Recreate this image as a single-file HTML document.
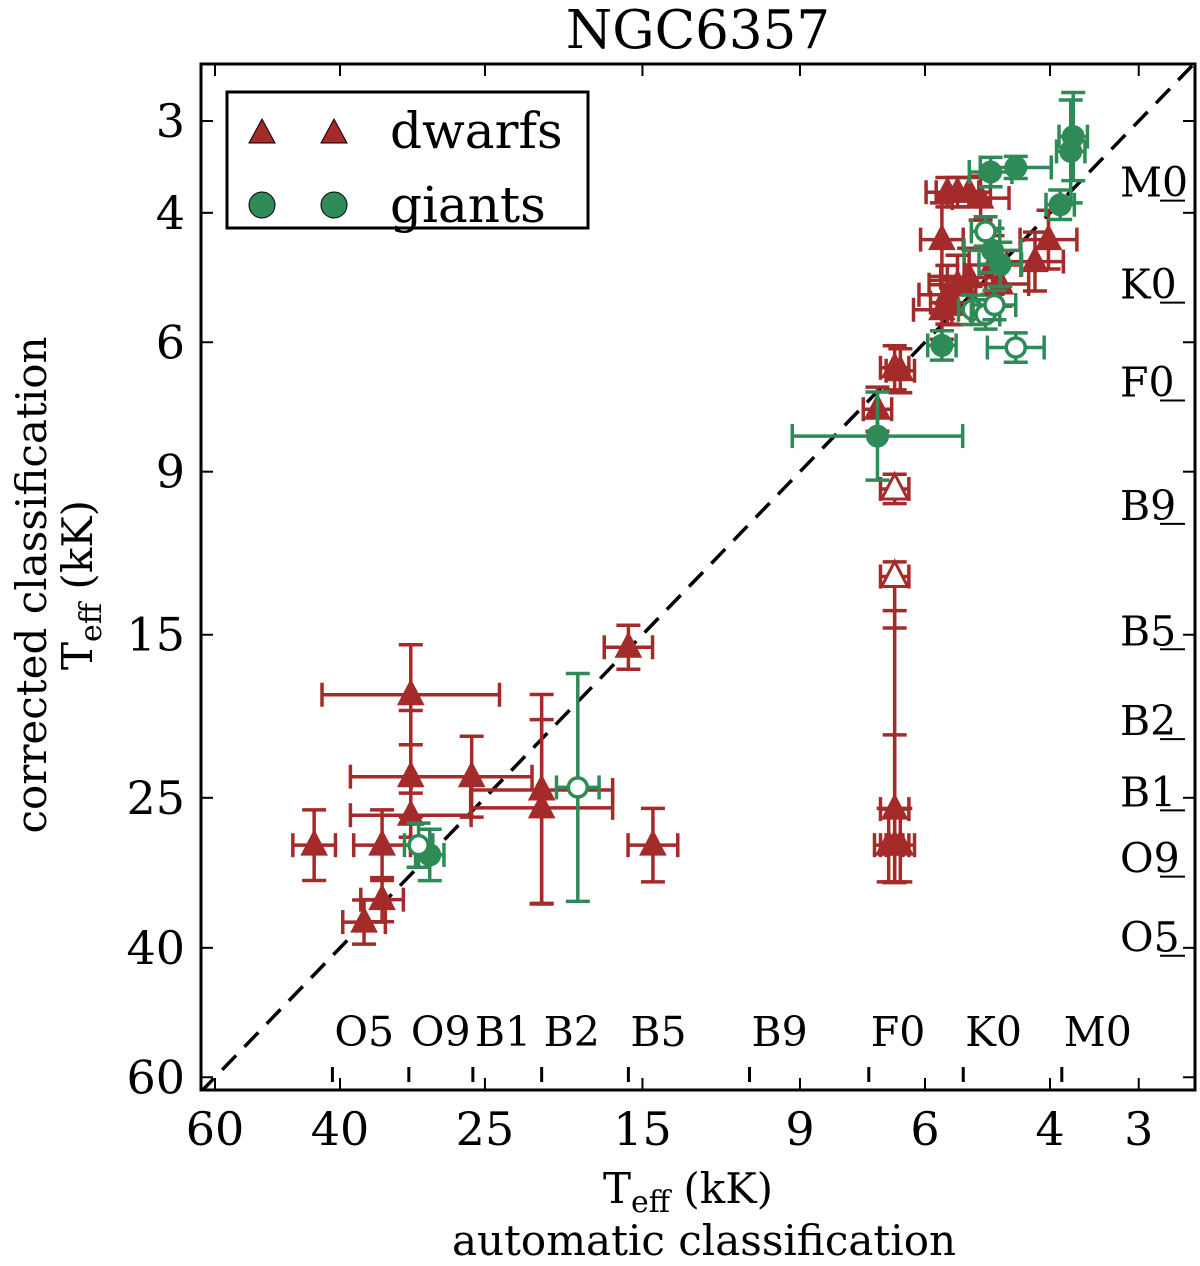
<!DOCTYPE html>
<html><head><meta charset="utf-8"><style>
body{margin:0;background:#fff}
svg text{font-family:"DejaVu Serif","Liberation Serif",serif;fill:#000}
</style></head><body>
<svg id="c" width="1200" height="1261" viewBox="0 0 1200 1261" xmlns="http://www.w3.org/2000/svg">
<rect width="1200" height="1261" fill="#fff"/>
<g id="marks"></g>
<g id="axes"></g>
</svg>
<script>
const tickVals=[60,40,25,15,9,6,4,3];
const tickLabels=["60","40","25","15","9","6","4","3"];
const specTypes=["O5","O9","B1","B2","B5","B9","F0","K0","M0"];
const specTemps=[41,32,26,20.8,15.7,10.6,7.2,5.3,3.85];
// dwarfs: [Tauto, Tcorr, xerrLo, xerrHi, yerrLo, yerrHi] errors in dex
const dwarfsFilled=[
[31.8,18.1,0.125,0.125,0.068,0.068],[31.8,23.4,0.085,0.085,0.09,0.055],[31.8,26.4,0.085,0.085,0.03,0.03],
[26.1,23.4,0.085,0.085,0.055,0.055],[20.8,24.4,0.1,0.1,0.13,0.155],[20.8,25.8,0.1,0.1,0.12,0.13],
[34.9,29,0.04,0.04,0.048,0.048],[43.5,29,0.03,0.03,0.048,0.048],[14.5,29,0.035,0.035,0.05,0.05],
[15.7,15.6,0.034,0.034,0.03,0.03],[34.9,34.4,0.03,0.03,0.03,0.03],[37,36.9,0.03,0.03,0.03,0.03],
[6.62,25.9,0.02,0.02,0.27,0.1],[6.62,29,0.02,0.02,0.15,0.05],[6.5,29,0.02,0.02,0.05,0.05],[6.75,29,0.02,0.02,0.05,0.05],
[6.5,6.56,0.02,0.02,0.03,0.03],[6.62,6.5,0.02,0.02,0.03,0.03],[7.0,7.4,0.02,0.02,0.03,0.03],
[5.58,3.75,0.03,0.03,0.02,0.02],[5.4,3.75,0.03,0.03,0.02,0.02],[5.2,3.75,0.03,0.03,0.02,0.02],[5.01,3.82,0.04,0.04,0.03,0.03],
[5.68,4.35,0.03,0.03,0.05,0.05],[4.02,4.35,0.04,0.04,0.04,0.04],[4.2,4.66,0.04,0.04,0.04,0.04],[4.82,4.71,0.04,0.04,0.04,0.04],
[5.4,5.01,0.04,0.04,0.04,0.04],[5.58,5.17,0.04,0.04,0.04,0.04],[5.68,5.42,0.04,0.04,0.04,0.04],[5.5,5.3,0.03,0.03,0.03,0.03],
[4.7,5.0,0.04,0.04,0.03,0.03],[5.2,4.9,0.04,0.04,0.04,0.04]];
const dwarfsOpen=[[6.62,9.5,0.02,0.02,0.02,0.02],[6.62,12.5,0.02,0.02,0.02,0.07]];
const giantsFilled=[[3.71,3.15,0.02,0.02,0.06,0.06],[3.74,3.3,0.02,0.02,0.07,0.07],[4.47,3.47,0.05,0.05,0.015,0.015],
[4.85,3.52,0.03,0.03,0.02,0.02],[3.87,3.9,0.02,0.02,0.02,0.02],[4.82,4.5,0.04,0.04,0.03,0.03],[4.7,4.7,0.03,0.03,0.03,0.03],
[5.68,6.06,0.02,0.02,0.02,0.02],[7.0,8.05,0.12,0.12,0.06,0.06],[29.9,29.9,0.02,0.02,0.035,0.035]];
const giantsOpen=[[4.93,4.24,0.02,0.02,0.02,0.02],[5.14,5.42,0.02,0.02,0.02,0.02],[4.93,5.5,0.02,0.02,0.02,0.02],
[4.79,5.34,0.03,0.03,0.02,0.02],[4.47,6.1,0.04,0.04,0.02,0.02],[18.5,24.2,0.03,0.03,0.155,0.155],[31,29,0.02,0.02,0.03,0.03]];

const L=201,R=1195,T=64,B=1090;
const X=t=>215+(Math.log10(60)-Math.log10(t))*710;
const Y=t=>121+(Math.log10(t)-Math.log10(3))*735;
const NS="http://www.w3.org/2000/svg";
function mk(tag,attrs,parent){const e=document.createElementNS(NS,tag);for(const k in attrs)e.setAttribute(k,attrs[k]);parent.appendChild(e);return e;}
const marks=document.getElementById('marks'),axes=document.getElementById('axes');
const RED="#a52a2a",GRN="#2e8b57";
const clip=mk('clipPath',{id:'pc'},marks);mk('rect',{x:L,y:T,width:R-L,height:B-T},clip);
const g=mk('g',{'clip-path':'url(#pc)'},marks);
const diag=mk('line',{x1:X(63),y1:Y(63),x2:X(2.4),y2:Y(2.4),stroke:'#000','stroke-width':3.5,'stroke-dasharray':'20,12'},g);


function drawSet(data,color,shape,filled,name){
 data.forEach(d=>{
  const cx=X(d[0]),cy=Y(d[1]);
  const grp=mk('g',{stroke:color,'stroke-width':3.5,fill:'none'},g);
  
  
  const x1=X(d[0]*Math.pow(10,d[3])),x2=X(d[0]/Math.pow(10,d[2]));
  const y1=Y(d[1]/Math.pow(10,d[4])),y2=Y(d[1]*Math.pow(10,d[5]));
  mk('line',{x1:x1,y1:cy,x2:x2,y2:cy},grp);
  mk('line',{x1:x1,y1:cy-12,x2:x1,y2:cy+12},grp);
  mk('line',{x1:x2,y1:cy-12,x2:x2,y2:cy+12},grp);
  mk('line',{x1:cx,y1:y1,x2:cx,y2:y2},grp);
  mk('line',{x1:cx-12,y1:y1,x2:cx+12,y2:y1},grp);
  mk('line',{x1:cx-12,y1:y2,x2:cx+12,y2:y2},grp);
  const fill=filled?color:'#fff';
  if(shape==='tri') mk('polygon',{points:`${cx},${cy-15} ${cx-13},${cy+10} ${cx+13},${cy+10}`,fill:fill,stroke:color,'stroke-width':filled?1:3},grp);
  else mk('circle',{cx:cx,cy:cy,r:filled?11:9.5,fill:fill,stroke:color,'stroke-width':filled?1:3.5},grp);
 });
}
drawSet(dwarfsFilled,RED,'tri',true,'dwarf-point');
drawSet(dwarfsOpen,RED,'tri',false,'dwarf-point-open');
drawSet(giantsFilled,GRN,'circ',true,'giant-point');
drawSet(giantsOpen,GRN,'circ',false,'giant-point-open');
specTypes.forEach((s,i)=>{
 const x=X(specTemps[i]);
 mk('line',{x1:x,y1:1067,x2:x,y2:1082,stroke:'#000','stroke-width':3},axes);
 const t=mk('text',{x:x+2,y:1046,'font-size':41},axes);t.textContent=s;
 
 
 const y=Y(specTemps[i]);
 mk('line',{x1:1160,y1:y,x2:1185,y2:y,stroke:'#000','stroke-width':2},axes);
 const t2=mk('text',{x:1120,y:y-4,'font-size':41},axes);t2.textContent=s;
 
 
});
const fr=mk('rect',{x:L,y:T,width:R-L,height:B-T,fill:'none',stroke:'#000','stroke-width':3},axes);


tickVals.forEach((v,i)=>{
 const x=X(v),y=Y(v);
 mk('line',{x1:x,y1:B,x2:x,y2:B-12,stroke:'#000','stroke-width':2},axes);
 mk('line',{x1:x,y1:T,x2:x,y2:T+12,stroke:'#000','stroke-width':2},axes);
 mk('line',{x1:L,y1:y,x2:L+12,y2:y,stroke:'#000','stroke-width':2},axes);
 mk('line',{x1:R,y1:y,x2:R-12,y2:y,stroke:'#000','stroke-width':2},axes);
 const tx=mk('text',{x:x,y:1145,'font-size':46,'text-anchor':'middle'},axes);tx.textContent=tickLabels[i];
 
 
 const ty=mk('text',{x:185,y:y+16,'font-size':46,'text-anchor':'end'},axes);ty.textContent=tickLabels[i];
 
 
});
</script>
<svg style="position:absolute;left:0;top:0" width="1200" height="1261">
<text x="698" y="48" font-size="53" text-anchor="middle">NGC6357</text>
<text x="688" y="1203" font-size="42" text-anchor="middle">T<tspan font-size="30" dy="9">eff</tspan><tspan dy="-9"> (kK)</tspan></text>
<text x="704" y="1255" font-size="42" text-anchor="middle">automatic classification</text>
<g transform="translate(46,585) rotate(-90)">
<text x="0" y="0" font-size="42" text-anchor="middle">corrected classification</text>
<text x="0" y="46" font-size="42" text-anchor="middle">T<tspan font-size="30" dy="9">eff</tspan><tspan dy="-9"> (kK)</tspan></text>
</g>
<g>
<rect x="227" y="92" width="361" height="136" fill="#fff" stroke="#000" stroke-width="3"/>
<polygon points="262,119 249,143 275,143" fill="#a52a2a" stroke="#000" stroke-width="1"/>
<polygon points="334,119 321,143 347,143" fill="#a52a2a" stroke="#000" stroke-width="1"/>
<text x="390" y="148" font-size="50">dwarfs</text>
<circle cx="262" cy="205" r="13" fill="#2e8b57" stroke="#000" stroke-width="1"/>
<circle cx="334" cy="205" r="13" fill="#2e8b57" stroke="#000" stroke-width="1"/>
<text x="390" y="222" font-size="50">giants</text>
</g>
</svg>
</body></html>
